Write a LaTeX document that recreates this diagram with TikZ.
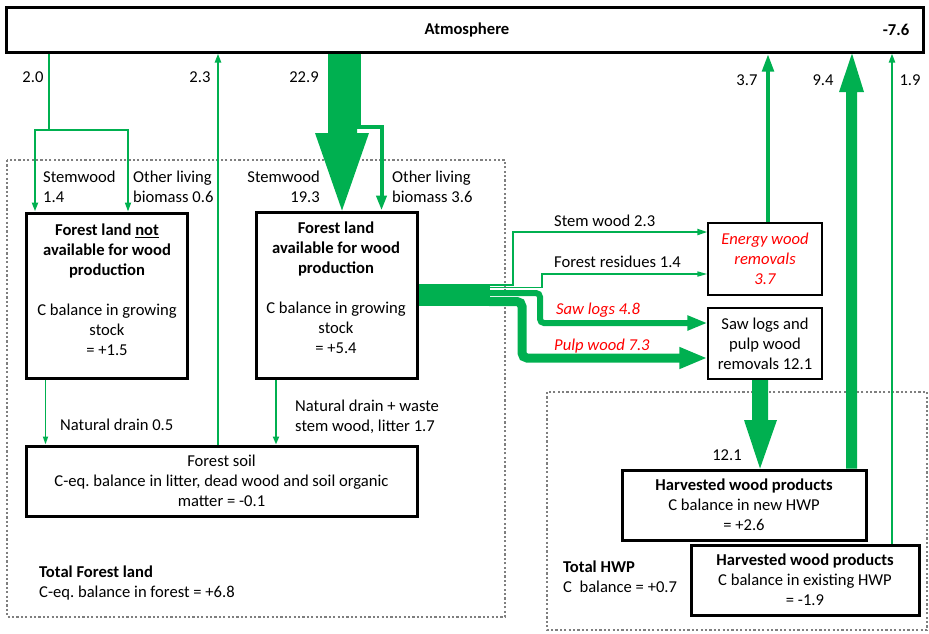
\documentclass[tikz,border=0pt]{standalone}
\usepackage{fontspec}
\setmainfont{Carlito}
\usetikzlibrary{arrows.meta}
\definecolor{fgreen}{HTML}{00B050}
\definecolor{fred}{HTML}{FF0000}
\definecolor{dotgray}{HTML}{7F7F7F}
\pgfdeclarelayer{bg}
\pgfsetlayers{bg,main}
\tikzset{
  tipS/.tip={Triangle[length=9pt,width=6pt]},
  tipM/.tip={Triangle[length=15pt,width=10pt]},
}
\frenchspacing
\begin{document}
\begin{tikzpicture}[x=1pt,y=-1pt,
  every node/.style={font=\fontsize{16.6}{20}\selectfont, inner sep=0pt},
  thickbox/.style={draw=black, line width=3pt, fill=white, align=center},
  thinbox/.style={draw=black, line width=1.3pt, fill=white, align=center},
  region/.style={draw=dotgray, line width=2.4pt, dash pattern=on 2.2pt off 2.2pt},
  flow/.style={draw=fgreen, line width=#1},
  redit/.style={text=fred, font=\fontsize{16.6}{20}\selectfont\itshape},
]
\useasboundingbox (0,0) rectangle (929,633);

% boxes
\node[thickbox, minimum width=917pt, minimum height=45pt] (atm) at (464.5,29.5) {};
\node (atmt) at (467,30) {\textbf{Atmosphere}};
\node (atmv) at (896,30) {\textbf{-7.6}};

\node[thickbox, minimum width=161pt, minimum height=165pt] (fl1) at (106.5,295.5) {};
\node[align=center] (fl1t) at (107,290) {\textbf{Forest land \underline{not}}\\\textbf{available for wood}\\\textbf{production}\\[20pt]C balance in growing\\stock\\= +1.5};
\node[thickbox, minimum width=161pt, minimum height=166pt] (fl2) at (336.5,295) {};
\node[align=center] (fl2t) at (336,288) {\textbf{Forest land}\\\textbf{available for wood}\\\textbf{production}\\[20pt]C balance in growing\\stock\\= +5.4};
\node[thickbox, minimum width=391pt, minimum height=70pt] (soil) at (221.5,481) {Forest soil\\C-eq. balance in litter, dead wood and soil organic\\matter = -0.1};
\node[thinbox, redit, minimum width=114pt, minimum height=72pt] (ew) at (765,259) {Energy wood\\removals\\3.7};
\node[thinbox, minimum width=114pt, minimum height=71pt] (sp) at (765,343.5) {Saw logs and\\pulp wood\\removals 12.1};
\node[thickbox, minimum width=244pt, minimum height=70pt] (hn) at (744,505) {\textbf{Harvested wood products}\\C balance in new HWP\\= +2.6};
\node[thickbox, minimum width=228pt, minimum height=70pt] (he) at (805,580) {\textbf{Harvested wood products}\\C balance in existing HWP\\= -1.9};

% labels
\node (l20) at (33,77) {2.0};
\node (l23) at (200,77) {2.3};
\node (l229) at (304,77) {22.9};
\node (l37) at (747,80) {3.7};
\node (l94) at (823,80) {9.4};
\node (l19) at (910,80) {1.9};
\node[align=left, anchor=west] (ls1) at (43,187) {Stemwood\\1.4};
\node[align=left, anchor=west] (lo1) at (133,187) {Other living\\biomass 0.6};
\node[align=right, anchor=east] (ls2) at (320,187) {Stemwood\\19.3};
\node[align=left, anchor=west] (lo2) at (392,187) {Other living\\biomass 3.6};
\node[anchor=west] (lnd1) at (60,425) {Natural drain 0.5};
\node[align=left, anchor=west] (lnd2) at (295,417) {Natural drain + waste\\stem wood, litter 1.7};
\node[align=left, anchor=west] (ltf) at (39,583) {\textbf{Total Forest land}\\C-eq. balance in forest = +6.8};
\node[align=left, anchor=west] (lth) at (563,577) {\textbf{Total HWP}\\C\ \ balance = +0.7};
\node (l121) at (727,455) {12.1};
\node[anchor=west] (lsw) at (554,221) {Stem wood 2.3};
\node[anchor=west] (lfr) at (554,262) {Forest residues 1.4};
\node[anchor=west, redit] (lsl) at (556,310) {Saw logs 4.8};
\node[anchor=west, redit] (lpw) at (554,346) {Pulp wood 7.3};

\begin{pgfonlayer}{bg}
\draw[region] (7,160) rectangle (505,617);
\draw[region] (547,392) rectangle (927,630);
% 2.0 split
\draw[flow=2.2pt, -{tipS}] (49,0 |- atm.south) -- (49,130) -- (35,130) -- (35,0 |- fl1.north);
\draw[flow=1.6pt, -{tipS}] (49,130) -- (128,130) -- (128,0 |- fl1.north);
% 2.3
\draw[flow=2.6pt, -{tipS}] (218,0 |- soil.north) -- (218,0 |- atm.south);
% 22.9
\fill[fgreen] (328,0 |- atm.south) -- (357,0 |- atm.south) -- (357,133) -- (369,133) -- (342,0 |- fl2.north) -- (315,133) -- (328,133) -- cycle;
\draw[flow=4pt, -{tipM}] (358.5,0 |- atm.south) -- (358.5,127) -- (381.5,127) -- (381.5,0 |- fl2.north);
% natural drains
\draw[flow=1.6pt, -{Triangle[length=8pt,width=5pt]}] (45.5,0 |- fl1.south) -- (45.5,0 |- soil.north);
\draw[flow=2pt, -{Triangle[length=8pt,width=6pt]}] (276,0 |- fl2.south) -- (276,0 |- soil.north);
% removals
\fill[fgreen] (fl2.east |- 0,284) rectangle (490,306);
\draw[flow=2pt, -{Triangle[length=10pt,width=6pt]}] (489,285) -- (513,285) -- (513,232) -- (ew.west |- 0,232);
\draw[flow=1.6pt, -{Triangle[length=10pt,width=5pt]}] (489,287.5) -- (542,287.5) -- (542,274) -- (ew.west |- 0,274);
\draw[flow=6pt, rounded corners=4pt, -{Triangle[length=20pt,width=14pt]}] (489,293) -- (540,293) -- (540,323) -- (sp.west |- 0,323);
\draw[flow=9pt, rounded corners=5pt, -{Triangle[length=28pt,width=20pt]}] (489,301.5) -- (522,301.5) -- (522,358) -- (sp.west |- 0,358);
% up to atmosphere
\draw[flow=4.5pt, -{Triangle[length=18pt,width=11pt]}] (768,0 |- ew.north) -- (768,0 |- atm.south);
\fill[fgreen] (846,0 |- hn.north) -- (846,92) -- (839,92) -- (852,0 |- atm.south) -- (864,92) -- (857,92) -- (857,0 |- hn.north) -- cycle;
\draw[flow=2pt, -{tipS}] (892,0 |- he.north) -- (892,0 |- atm.south);
% 12.1
\fill[fgreen] (752,0 |- sp.south) -- (752,420) -- (744,420) -- (760,0 |- hn.north) -- (777,420) -- (768,420) -- (768,0 |- sp.south) -- cycle;
\end{pgfonlayer}
\end{tikzpicture}
\end{document}
